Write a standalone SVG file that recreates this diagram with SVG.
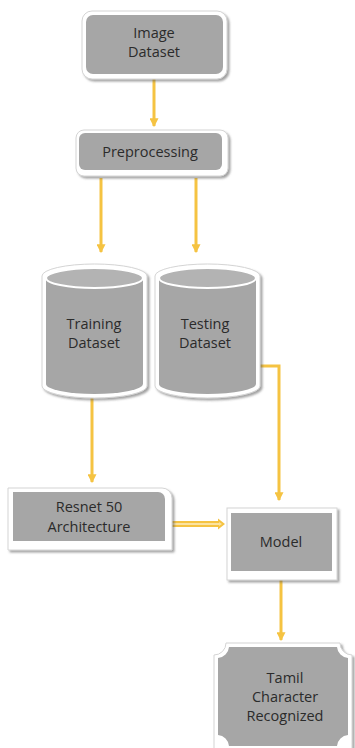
<svg xmlns="http://www.w3.org/2000/svg" width="355" height="748" viewBox="0 0 355 748">
  <defs>
    <filter id="shadow" x="-10%" y="-10%" width="130%" height="130%">
      <feDropShadow dx="2" dy="2" stdDeviation="1.2" flood-color="#555" flood-opacity="0.55"/>
    </filter>
    <marker id="arrow" viewBox="0 0 8 8" refX="7" refY="4" markerWidth="3" markerHeight="3" orient="auto" markerUnits="strokeWidth">
      <path d="M0,0 L8,4 L0,8 z" fill="#F5C342"/>
    </marker>
    <style>
      .shell { fill: #ffffff; stroke: #d4d4d4; stroke-width: 1; filter: url(#shadow); }
      .body { fill: #a6a6a6; }
      .label { font-family: "Open Sans", "Liberation Sans", sans-serif; font-size: 14.5px; fill: #2b2b2b; text-anchor: middle; }
      .link { fill: none; stroke: #F5C342; stroke-width: 3; }
    </style>
  </defs>

  <rect width="355" height="748" fill="#ffffff"/>

  <!-- connectors -->
  <g id="connectors">
    <line class="link" x1="154" y1="79" x2="154" y2="126" marker-end="url(#arrow)"/>
    <line class="link" x1="101" y1="178" x2="101" y2="252" marker-end="url(#arrow)"/>
    <line class="link" x1="196" y1="178" x2="196" y2="252" marker-end="url(#arrow)"/>
    <line class="link" x1="92" y1="396" x2="92" y2="482" marker-end="url(#arrow)"/>
    <path class="link" d="M258,366 H279 V500" marker-end="url(#arrow)"/>
    <line class="link" x1="281" y1="580" x2="281" y2="640" marker-end="url(#arrow)"/>
    <!-- double-line arrow from Resnet 50 to Model -->
    <g id="double-arrow">
      <path d="M170,521 H218 V518.5 L225,524 L218,529.5 V527 H170 z" fill="#F5C342"/>
      <path d="M171,523 H219 V522 L222,524 L219,526 V525 H171 z" fill="#FBE3A0"/>
    </g>
  </g>

  <!-- Image Dataset -->
  <g id="image-dataset">
    <rect class="shell" x="82" y="11" width="145" height="68" rx="10"/>
    <rect class="body" x="86" y="15" width="137" height="59" rx="7"/>
    <text class="label" x="154" y="38">Image</text>
    <text class="label" x="154" y="57">Dataset</text>
  </g>

  <!-- Preprocessing -->
  <g id="preprocessing">
    <rect class="shell" x="76" y="130" width="152" height="46" rx="8"/>
    <rect class="body" x="79" y="133" width="143" height="37" rx="6"/>
    <text class="label" x="150" y="157">Preprocessing</text>
  </g>

  <!-- Training Dataset -->
  <g id="training-dataset">
    <path class="shell" d="M42,276 A52.5,12 0 0 1 147,276 V386 A52.5,12 0 0 1 42,386 z"/>
    <path class="body" d="M46,278 A48.5,10 0 0 1 143,278 V384 A48.5,10 0 0 1 46,384 z"/>
    <ellipse cx="94.5" cy="278" rx="48.5" ry="10" fill="#b3b3b3" stroke="#ffffff" stroke-width="2"/>
    <text class="label" x="94" y="329">Training</text>
    <text class="label" x="94" y="348">Dataset</text>
  </g>

  <!-- Testing Dataset -->
  <g id="testing-dataset">
    <path class="shell" d="M155,276 A52.5,12 0 0 1 260,276 V386 A52.5,12 0 0 1 155,386 z"/>
    <path class="body" d="M159,278 A48.5,10 0 0 1 256,278 V384 A48.5,10 0 0 1 159,384 z"/>
    <ellipse cx="207.5" cy="278" rx="48.5" ry="10" fill="#b3b3b3" stroke="#ffffff" stroke-width="2"/>
    <text class="label" x="205" y="329">Testing</text>
    <text class="label" x="205" y="348">Dataset</text>
  </g>

  <!-- Resnet 50 Architecture -->
  <g id="resnet50">
    <path class="shell" d="M8,488 H162 A10,10 0 0 1 172,498 V550 H8 z"/>
    <path class="body" d="M13,492 H158 A7,7 0 0 1 165,499 V541 H13 z"/>
    <text class="label" x="89" y="512">Resnet 50</text>
    <text class="label" x="89" y="532">Architecture</text>
  </g>

  <!-- Model -->
  <g id="model">
    <rect class="shell" x="227" y="508" width="110" height="72"/>
    <rect class="body" x="231" y="513" width="101" height="58"/>
    <text class="label" x="281" y="547">Model</text>
  </g>

  <!-- Tamil Character Recognized -->
  <g id="tamil-character-recognized">
    <path class="shell" d="M226,643 H340 A12,12 0 0 0 352,655 V760 H214 V655 A12,12 0 0 0 226,643 z"/>
    <path class="body" d="M229,647 H337 A12,12 0 0 0 348,658 V735 A12,12 0 0 0 337,746 H229 A12,12 0 0 0 218,735 V658 A12,12 0 0 0 229,647 z"/>
    <text class="label" x="285" y="683">Tamil</text>
    <text class="label" x="285" y="702">Character</text>
    <text class="label" x="285" y="721">Recognized</text>
  </g>
</svg>
